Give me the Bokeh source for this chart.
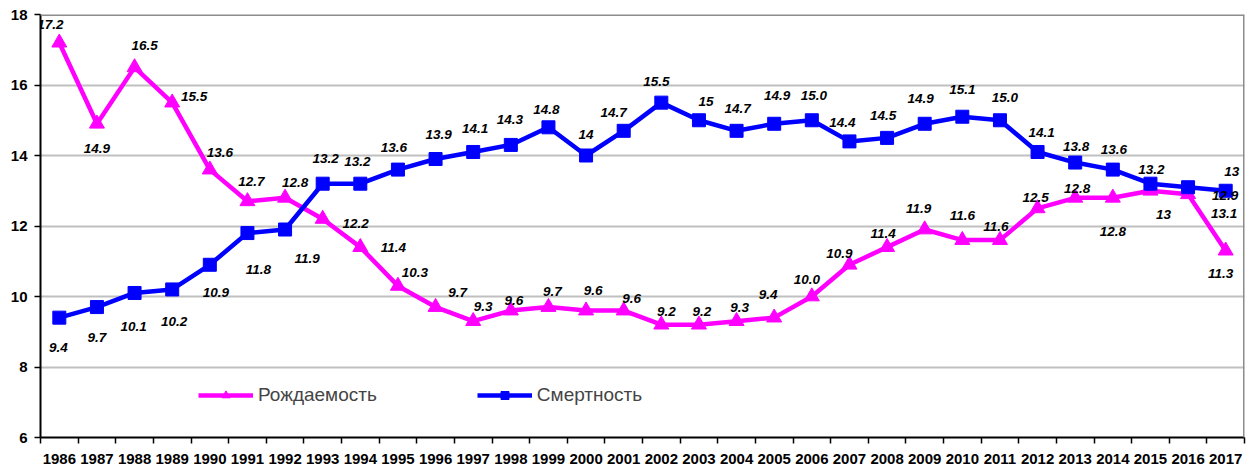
from bokeh.plotting import figure
from bokeh.models import FixedTicker, Span, Legend, LegendItem, ColumnDataSource
from bokeh.core.properties import value
from bokeh.embed import file_html
from bokeh.resources import INLINE

years = list(range(1986, 2018))
birth = [17.2, 14.9, 16.5, 15.5, 13.6, 12.7, 12.8, 12.2, 11.4, 10.3, 9.7, 9.3, 9.6, 9.7, 9.6, 9.6,
         9.2, 9.2, 9.3, 9.4, 10.0, 10.9, 11.4, 11.9, 11.6, 11.6, 12.5, 12.8, 12.8, 13.0, 12.9, 11.3]
death = [9.4, 9.7, 10.1, 10.2, 10.9, 11.8, 11.9, 13.2, 13.2, 13.6, 13.9, 14.1, 14.3, 14.8, 14.0, 14.7,
         15.5, 15.0, 14.7, 14.9, 15.0, 14.4, 14.5, 14.9, 15.1, 15.0, 14.1, 13.8, 13.6, 13.2, 13.1, 13.0]
birth_labels = ["17.2", "14.9", "16.5", "15.5", "13.6", "12.7", "12.8", "12.2", "11.4", "10.3", "9.7",
                "9.3", "9.6", "9.7", "9.6", "9.6", "9.2", "9.2", "9.3", "9.4", "10.0", "10.9", "11.4",
                "11.9", "11.6", "11.6", "12.5", "12.8", "12.8", "13", "12.9", "11.3"]
death_labels = ["9.4", "9.7", "10.1", "10.2", "10.9", "11.8", "11.9", "13.2", "13.2", "13.6", "13.9",
                "14.1", "14.3", "14.8", "14", "14.7", "15.5", "15", "14.7", "14.9", "15.0", "14.4",
                "14.5", "14.9", "15.1", "15.0", "14.1", "13.8", "13.6", "13.2", "13.1", "13"]
series_names = ["Рождаемость", "Смертность"]
y_ticks = [6, 8, 10, 12, 14, 16, 18]

# label placement (screen pixel offsets from each point)
birth_dx = [-9, 0, 10, 22, 10, 4, 10, 33, 33, 17, 22, 10, 3, 4, 7, 8, 5, 3, 3, -6,
            -5, -10, -4, -6, 0, -4, -2, 2, 0, 13, 37, -5]
birth_dy = [-18, 25, -22, -6, -17, -20, -15, 5, 0, -13, -15, -15, -10, -16, -20, -12, -13, -13, -14, -23,
            -17, -11, -14, -21, -25, -14, -11, -9, 34, 24, 1, 23]
death_dx = [-1, 0, -1, 2, 6, 11, 22, 3, -3, -4, 3, 2, -1, -2, 0, -10, -5, 7, 1, 3,
            2, -7, -4, -4, 0, 5, 4, 1, 1, 1, 36, 6]
death_dy = [30, 30, 34, 32, 28, 36, 29, -25, -22, -22, -25, -23, -25, -18, -21, -18, -21, -19, -22, -28,
            -25, -19, -22, -25, -27, -23, -19, -16, -20, -14, 26, -19]

XMIN, XMAX = years[0] - 0.5, years[-1] + 0.5
YMIN, YMAX = y_ticks[0], y_ticks[-1]

p = figure(width=1246, height=466, x_range=(XMIN, XMAX), y_range=(YMIN, YMAX),
           output_backend="svg", toolbar_location=None,
           min_border_left=40, min_border_right=2, min_border_top=14, min_border_bottom=29)
p.outline_line_color = None
p.background_fill_color = "white"

p.xgrid.grid_line_color = None
p.ygrid.ticker = FixedTicker(ticks=y_ticks)
p.ygrid.grid_line_color = "#c0c0c0"
p.ygrid.grid_line_width = 2

p.add_layout(Span(location=YMAX, dimension="width", line_color="#8c8c8c", line_width=3))
p.add_layout(Span(location=XMAX, dimension="height", line_color="#8c8c8c", line_width=3))

# x axis
p.xaxis.ticker = FixedTicker(ticks=years, minor_ticks=[y - 0.5 for y in years] + [XMAX])
p.xaxis.major_tick_line_color = None
p.xaxis.major_tick_out = 0
p.xaxis.major_tick_in = 0
p.xaxis.minor_tick_line_color = "black"
p.xaxis.minor_tick_line_width = 1.5
p.xaxis.minor_tick_out = 6
p.xaxis.minor_tick_in = 0
p.xaxis.major_label_standoff = 10
p.xaxis.major_label_text_font = "Liberation Sans"
p.xaxis.major_label_text_font_style = "bold"
p.xaxis.major_label_text_font_size = "15px"
p.xaxis.major_label_text_color = "black"
p.xaxis.axis_line_color = "black"
p.xaxis.axis_line_width = 2

# y axis
p.yaxis.ticker = FixedTicker(ticks=y_ticks)
p.yaxis.minor_tick_line_color = None
p.yaxis.major_tick_out = 6
p.yaxis.major_tick_in = 0
p.yaxis.major_tick_line_width = 1.5
p.yaxis.major_tick_line_color = "black"
p.yaxis.major_label_standoff = 7
p.yaxis.major_label_text_font = "Liberation Sans"
p.yaxis.major_label_text_font_style = "bold"
p.yaxis.major_label_text_font_size = "15px"
p.yaxis.major_label_text_color = "black"
p.yaxis.axis_line_color = "black"
p.yaxis.axis_line_width = 2

src_b = ColumnDataSource(dict(x=years, y=birth, t=birth_labels, dx=birth_dx, dy=birth_dy))
src_d = ColumnDataSource(dict(x=years, y=death, t=death_labels, dx=death_dx, dy=death_dy))

lb = p.line("x", "y", source=src_b, line_color="#FF00FF", line_width=4.5)
sb = p.scatter("x", "y", source=src_b, marker="triangle", size=15, fill_color="#FF00FF",
               line_color="#FF00FF")
ld = p.line("x", "y", source=src_d, line_color="#0000FF", line_width=4.5)
sd = p.scatter("x", "y", source=src_d, marker="square", size=13, fill_color="#0000FF",
               line_color="#0000FF")

for src in (src_b, src_d):
    p.text("x", "y", text="t", source=src, x_offset="dx", y_offset="dy",
           text_align="center", text_baseline="middle",
           text_font=value("Liberation Sans"), text_font_style="bold italic",
           text_font_size="13.5px", text_color="black")

legend = Legend(items=[LegendItem(label=series_names[0], renderers=[lb, sb]),
                       LegendItem(label=series_names[1], renderers=[ld, sd])],
                orientation="horizontal", location=(158, 31), spacing=100,
                glyph_width=55, glyph_height=20, label_height=20, label_standoff=5,
                border_line_color=None, background_fill_alpha=0,
                label_text_font="Liberation Sans", label_text_font_size="19px",
                padding=0, margin=0)
p.add_layout(legend)

open("out.html", "w").write(file_html(p, INLINE))
